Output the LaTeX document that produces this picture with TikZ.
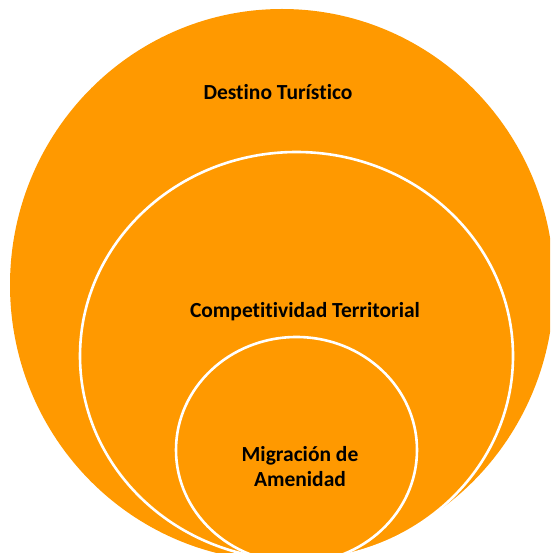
\documentclass[tikz,border=0pt]{standalone}
\usepackage{fontspec}
\setmainfont{Carlito}[Ligatures=CommonOff]
\definecolor{vorange}{RGB}{255,153,0}
\begin{document}
\begin{tikzpicture}[x=1pt,y=-1pt,
  ring/.style={fill=vorange,draw=white,line width=2.6pt},
  lbl/.style={font=\bfseries\fontsize{21.5}{25}\selectfont, text=black, align=center, inner sep=0pt, anchor=base}]
\useasboundingbox (0,0) rectangle (550,553);
\clip (0,0) rectangle (550,553);
\fill[vorange] (282,285) ellipse [x radius=272pt, y radius=276pt];
\draw[ring] (296.5,356) ellipse [x radius=216.5pt, y radius=204pt];
\draw[ring] (296.5,450) ellipse [x radius=120.5pt, y radius=113pt];
\node[lbl] (dest) at (278,100) {Destino Turístico};
\node[lbl] (comp) at (305,317.3) {Competitividad Territorial};
\node[lbl] (migr) at (300,486.7) {Migración de\\Amenidad};
\end{tikzpicture}
\end{document}
